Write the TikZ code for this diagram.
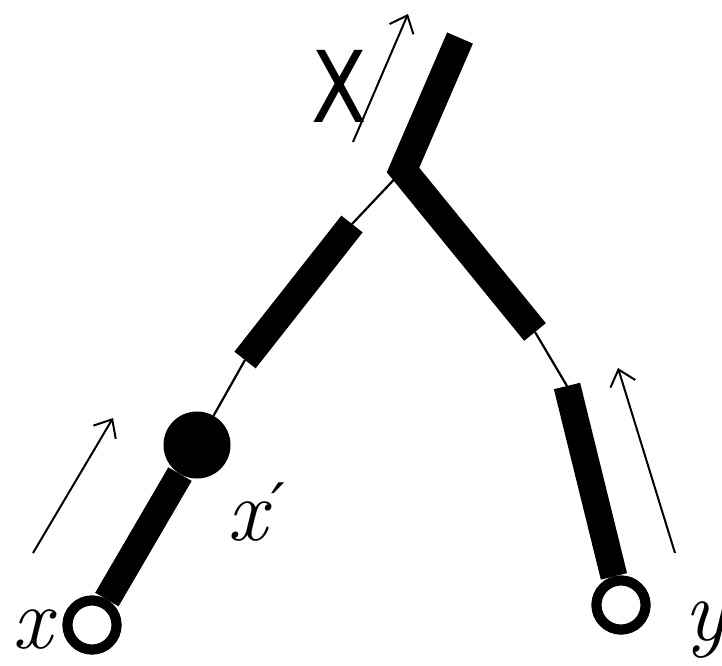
\documentclass[tikz,border=0pt]{standalone}
\usepackage{fontspec}
\newfontfamily\labelsans{DejaVu Sans}
\usetikzlibrary{arrows.meta}
\begin{document}
\begin{tikzpicture}[x=1pt,y=-1pt,
  bar/.style={line width=27pt, line cap=butt, line join=miter},
  wire/.style={line width=2.2pt},
  flow/.style={line width=2pt, -{Straight Barb[length=15pt,width=26pt,line width=2pt]}},
  ring/.style={circle, draw, line width=10pt, minimum size=49pt, inner sep=0pt, fill=white},
  blob/.style={circle, fill, minimum size=67pt, inner sep=0pt},
  lbl/.style={font=\rmfamily\itshape\fontsize{88}{88}\selectfont, inner sep=0pt}]
\useasboundingbox (0,0) rectangle (722,665);
% junction points
\coordinate (r1a) at (245,360);
\coordinate (r1b) at (352,224);
\coordinate (j)   at (403,170);
\coordinate (top) at (460,38);
\coordinate (r2b) at (535,332);
\coordinate (r3a) at (567,386);
% ends
\node[ring] (xr) at (92,625) {};
\node[ring] (yr) at (621,605) {};
\node[blob] (dot) at (197,445) {};
% thick bars
\draw[bar] (xr) -- (dot);
\draw[wire] (dot) -- (r1a);
\draw[bar] (r1a) -- (r1b);
\draw[wire] (r1b) -- (j);
\draw[bar, line width=28pt] (top) -- (j) -- (r2b);
\draw[wire] (r2b) -- (r3a);
\draw[bar] (r3a) -- (yr);
\node[ring] at (xr) {};
\node[ring] at (yr) {};
% arrows
\coordinate (a1s) at (33,553);  \coordinate (a1e) at (113,418);
\coordinate (a2s) at (353,142); \coordinate (a2e) at (408,14);
\coordinate (a3s) at (675,553); \coordinate (a3e) at (618,368);
\draw[flow] (a1s) -- (a1e);
\draw[flow] (a2s) -- (a2e);
\draw[flow] (a3s) -- (a3e);
% labels
\node[lbl, anchor=base west] (lx) at (12,648) {x};
\node[lbl, anchor=base west] (lxp) at (227,540) {x\kern5pt\raisebox{14pt}{\labelsans\fontsize{60}{60}\selectfont ′}};
\node[lbl, anchor=base west] (ly) at (684,640) {y};
\node[inner sep=0pt, anchor=base west, font=\labelsans\fontsize{99}{99}\selectfont] (lX) at (311,122) {\scalebox{0.82}[1]{X}};
\end{tikzpicture}
\end{document}
